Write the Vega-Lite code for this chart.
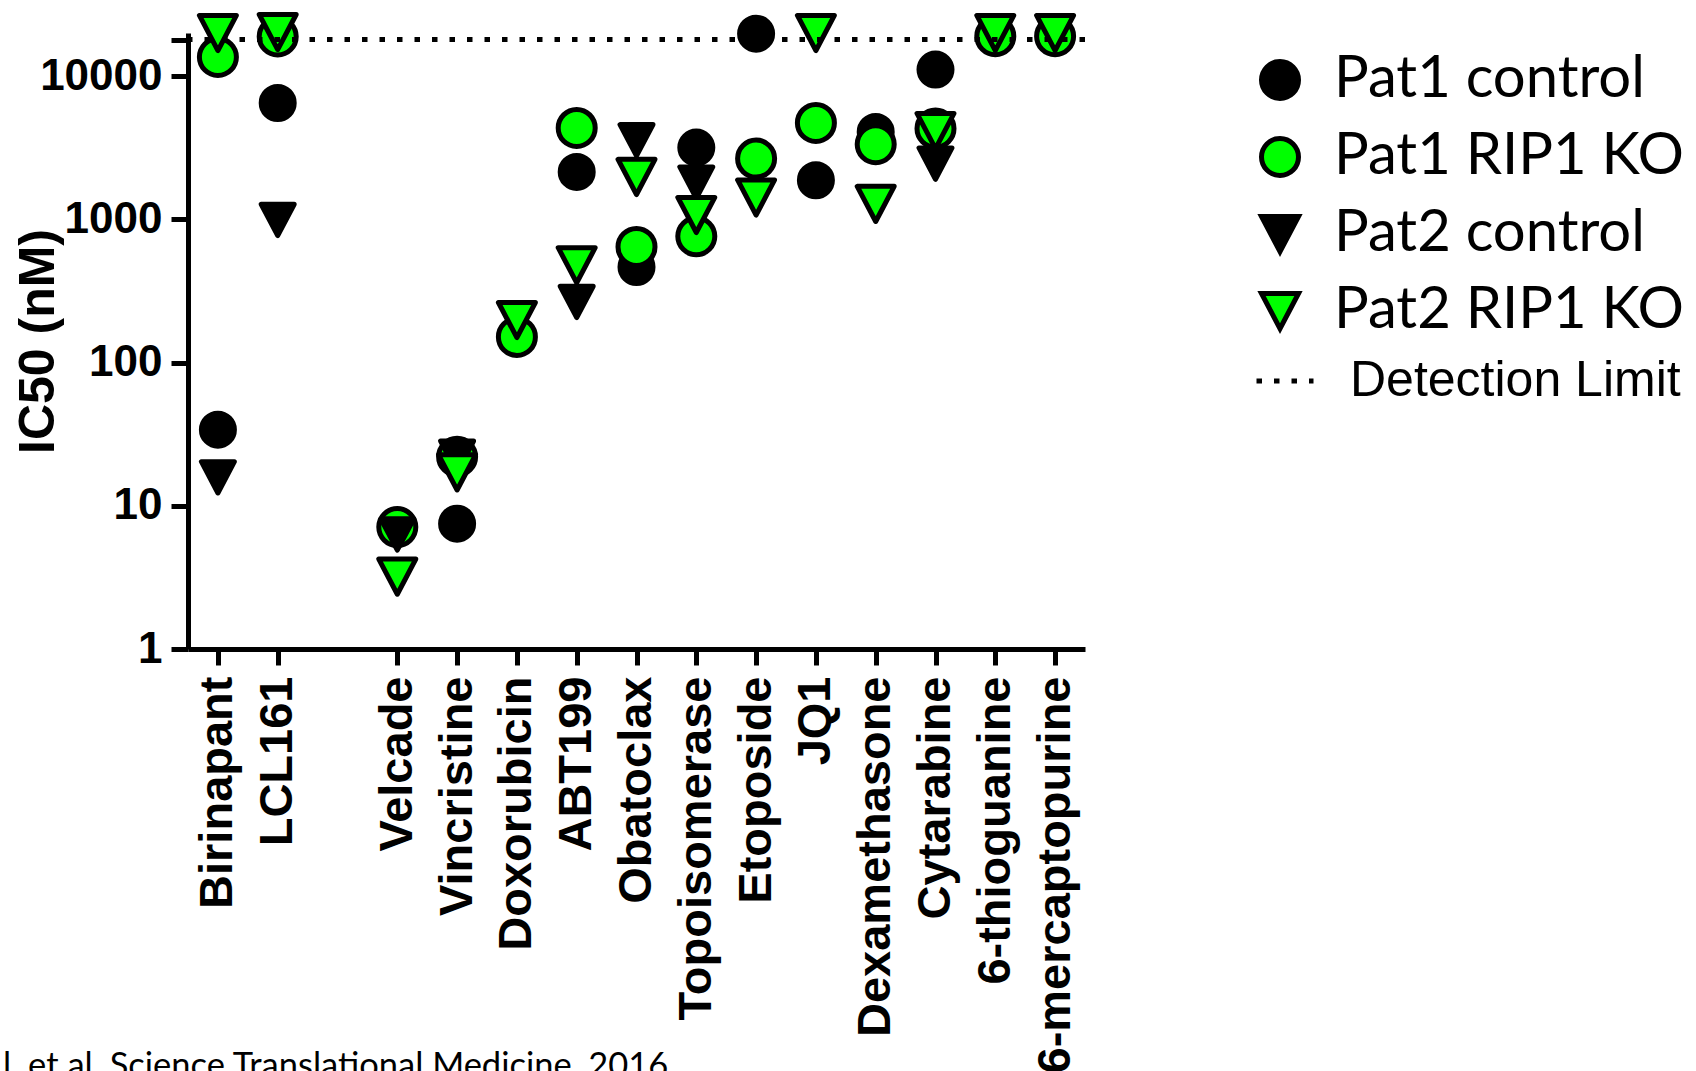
{
  "$schema": "https://vega.github.io/schema/vega-lite/v6.json",
  "width": 897,
  "height": 616,
  "autosize": {"type": "none"},
  "padding": {"left": 188, "top": 33, "right": 611, "bottom": 422},
  "background": "white",
  "title": {
    "text": "l. et al. Science Translational Medicine, 2016",
    "orient": "bottom",
    "anchor": "start",
    "frame": "group",
    "font": "Lato",
    "fontSize": 34.5,
    "fontWeight": "normal",
    "color": "black",
    "offset": -23,
    "dx": -185
  },
  "config": {
    "view": {"stroke": null},
    "font": "Liberation Sans",
    "legend": {
      "padding": 0,
      "labelColor": "black",
      "symbolStrokeColor": "black",
      "symbolStrokeWidth": 5,
      "labelLimit": 600
    }
  },
  "layer": [
    {
      "data": {
        "values": [
          {"drug": "Birinapant", "series": "Pat1 control", "ic50": 34},
          {"drug": "LCL161", "series": "Pat1 control", "ic50": 6490},
          {"drug": "Velcade", "series": "Pat1 control", "ic50": 7.0},
          {"drug": "Vincristine", "series": "Pat1 control", "ic50": 7.5},
          {"drug": "Doxorubicin", "series": "Pat1 control", "ic50": 150},
          {"drug": "ABT199", "series": "Pat1 control", "ic50": 2143},
          {"drug": "Obatoclax", "series": "Pat1 control", "ic50": 465},
          {"drug": "Topoisomerase", "series": "Pat1 control", "ic50": 3170},
          {"drug": "Etoposide", "series": "Pat1 control", "ic50": 19800},
          {"drug": "JQ1", "series": "Pat1 control", "ic50": 1875},
          {"drug": "Dexamethasone", "series": "Pat1 control", "ic50": 4075},
          {"drug": "Cytarabine", "series": "Pat1 control", "ic50": 11100},
          {"drug": "6-thioguanine", "series": "Pat1 control", "ic50": 19000},
          {"drug": "6-mercaptopurine", "series": "Pat1 control", "ic50": 19000},

          {"drug": "Birinapant", "series": "Pat1 RIP1 KO", "ic50": 13600},
          {"drug": "LCL161", "series": "Pat1 RIP1 KO", "ic50": 18900},
          {"drug": "Velcade", "series": "Pat1 RIP1 KO", "ic50": 7.1},
          {"drug": "Vincristine", "series": "Pat1 RIP1 KO", "ic50": 22},
          {"drug": "Doxorubicin", "series": "Pat1 RIP1 KO", "ic50": 151},
          {"drug": "ABT199", "series": "Pat1 RIP1 KO", "ic50": 4345},
          {"drug": "Obatoclax", "series": "Pat1 RIP1 KO", "ic50": 642},
          {"drug": "Topoisomerase", "series": "Pat1 RIP1 KO", "ic50": 762},
          {"drug": "Etoposide", "series": "Pat1 RIP1 KO", "ic50": 2656},
          {"drug": "JQ1", "series": "Pat1 RIP1 KO", "ic50": 4710},
          {"drug": "Dexamethasone", "series": "Pat1 RIP1 KO", "ic50": 3343},
          {"drug": "Cytarabine", "series": "Pat1 RIP1 KO", "ic50": 4300},
          {"drug": "6-thioguanine", "series": "Pat1 RIP1 KO", "ic50": 19000},
          {"drug": "6-mercaptopurine", "series": "Pat1 RIP1 KO", "ic50": 19000},

          {"drug": "Birinapant", "series": "Pat2 control", "ic50": 15.8},
          {"drug": "LCL161", "series": "Pat2 control", "ic50": 990},
          {"drug": "Velcade", "series": "Pat2 control", "ic50": 6.3},
          {"drug": "Vincristine", "series": "Pat2 control", "ic50": 22},
          {"drug": "Doxorubicin", "series": "Pat2 control", "ic50": 198},
          {"drug": "ABT199", "series": "Pat2 control", "ic50": 265},
          {"drug": "Obatoclax", "series": "Pat2 control", "ic50": 3565},
          {"drug": "Topoisomerase", "series": "Pat2 control", "ic50": 1806},
          {"drug": "Etoposide", "series": "Pat2 control", "ic50": 1420},
          {"drug": "JQ1", "series": "Pat2 control", "ic50": 20000},
          {"drug": "Dexamethasone", "series": "Pat2 control", "ic50": 1281},
          {"drug": "Cytarabine", "series": "Pat2 control", "ic50": 2450},
          {"drug": "6-thioguanine", "series": "Pat2 control", "ic50": 20000},
          {"drug": "6-mercaptopurine", "series": "Pat2 control", "ic50": 20000},

          {"drug": "Birinapant", "series": "Pat2 RIP1 KO", "ic50": 20000},
          {"drug": "LCL161", "series": "Pat2 RIP1 KO", "ic50": 20300},
          {"drug": "Velcade", "series": "Pat2 RIP1 KO", "ic50": 3.2},
          {"drug": "Vincristine", "series": "Pat2 RIP1 KO", "ic50": 17.1},
          {"drug": "Doxorubicin", "series": "Pat2 RIP1 KO", "ic50": 198},
          {"drug": "ABT199", "series": "Pat2 RIP1 KO", "ic50": 478},
          {"drug": "Obatoclax", "series": "Pat2 RIP1 KO", "ic50": 1977},
          {"drug": "Topoisomerase", "series": "Pat2 RIP1 KO", "ic50": 1073},
          {"drug": "Etoposide", "series": "Pat2 RIP1 KO", "ic50": 1420},
          {"drug": "JQ1", "series": "Pat2 RIP1 KO", "ic50": 20000},
          {"drug": "Dexamethasone", "series": "Pat2 RIP1 KO", "ic50": 1281},
          {"drug": "Cytarabine", "series": "Pat2 RIP1 KO", "ic50": 4140},
          {"drug": "6-thioguanine", "series": "Pat2 RIP1 KO", "ic50": 20000},
          {"drug": "6-mercaptopurine", "series": "Pat2 RIP1 KO", "ic50": 20000}
        ]
      },
      "mark": {"type": "point", "filled": true, "strokeWidth": 5, "strokeJoin": "round", "opacity": 1},
      "encoding": {
        "x": {
          "field": "drug",
          "type": "nominal",
          "sort": null,
          "scale": {
            "type": "point",
            "padding": 0.5,
            "domain": ["Birinapant", "LCL161", " ", "Velcade", "Vincristine", "Doxorubicin", "ABT199", "Obatoclax", "Topoisomerase", "Etoposide", "JQ1", "Dexamethasone", "Cytarabine", "6-thioguanine", "6-mercaptopurine"]
          },
          "axis": {
            "title": null,
            "values": ["Birinapant", "LCL161", "Velcade", "Vincristine", "Doxorubicin", "ABT199", "Obatoclax", "Topoisomerase", "Etoposide", "JQ1", "Dexamethasone", "Cytarabine", "6-thioguanine", "6-mercaptopurine"],
            "labelAngle": -90,
            "labelFont": "Liberation Sans",
            "labelFontWeight": "bold",
            "labelFontSize": 47,
            "labelColor": "black",
            "labelPadding": 11,
            "labelOverlap": false,
            "labelLimit": 1000,
            "tickSize": 16,
            "tickWidth": 5,
            "tickColor": "black",
            "domainWidth": 5,
            "domainColor": "black",
            "grid": false
          }
        },
        "y": {
          "field": "ic50",
          "type": "quantitative",
          "scale": {"type": "log", "domain": [1, 20000], "nice": false},
          "axis": {
            "title": "IC50 (nM)",
            "values": [1, 10, 100, 1000, 10000, 18000],
            "format": "d",
            "labelExpr": "datum.value == 18000 ? '' : format(datum.value, 'd')",
            "labelFont": "Liberation Sans",
            "labelFontWeight": "bold",
            "labelFontSize": 44,
            "labelColor": "black",
            "labelPadding": 9,
            "labelOverlap": false,
            "tickSize": 17,
            "tickWidth": 5,
            "tickColor": "black",
            "domainWidth": 5,
            "domainColor": "black",
            "grid": false,
            "titleFont": "Liberation Sans",
            "titleFontWeight": "bold",
            "titleFontSize": 50,
            "titleColor": "black",
            "titleX": -150,
            "titleY": 308,
            "titleAngle": -90,
            "titleAlign": "center",
            "titleBaseline": "middle"
          }
        },
        "shape": {
          "field": "series",
          "type": "nominal",
          "scale": {
            "domain": ["Pat1 control", "Pat1 RIP1 KO", "Pat2 control", "Pat2 RIP1 KO"],
            "range": ["circle", "circle", "M-1,-0.95L1,-0.95L0,0.95Z", "M-1,-0.95L1,-0.95L0,0.95Z"]
          },
          "legend": {
            "title": null, "orient": "none", "legendX": 1063, "legendY": 18,
            "labelFont": "Lato", "labelFontSize": 58, "labelOffset": 25, "rowPadding": 19, "symbolSize": 1369
          }
        },
        "fill": {
          "field": "series",
          "type": "nominal",
          "scale": {
            "domain": ["Pat1 control", "Pat1 RIP1 KO", "Pat2 control", "Pat2 RIP1 KO"],
            "range": ["black", "#00ff00", "black", "#00ff00"]
          },
          "legend": {
            "title": null, "orient": "none", "legendX": 1063, "legendY": 18,
            "labelFont": "Lato", "labelFontSize": 58, "labelOffset": 25, "rowPadding": 19, "symbolSize": 1369
          }
        },
        "stroke": {
          "field": "series",
          "type": "nominal",
          "scale": {
            "domain": ["Pat1 control", "Pat1 RIP1 KO", "Pat2 control", "Pat2 RIP1 KO"],
            "range": ["black", "black", "black", "black"]
          },
          "legend": {
            "title": null, "orient": "none", "legendX": 1063, "legendY": 18,
            "labelFont": "Lato", "labelFontSize": 58, "labelOffset": 25, "rowPadding": 19, "symbolSize": 1369
          }
        },
        "size": {
          "condition": {"test": "datum.series == 'Pat1 control' || datum.series == 'Pat2 control'", "value": 1089},
          "value": 1369
        }
      }
    },
    {
      "data": {"values": [{"limit": "Detection Limit"}]},
      "mark": {"type": "rule", "strokeWidth": 5, "color": "black"},
      "encoding": {
        "y": {"datum": 18000},
        "strokeDash": {
          "field": "limit",
          "type": "nominal",
          "scale": {"domain": ["Detection Limit"], "range": [[5.5, 12]]},
          "legend": {
            "title": null, "orient": "none", "legendX": 1066, "legendY": 317,
            "labelFont": "Liberation Sans", "labelFontSize": 50, "labelOffset": 34,
            "symbolType": "stroke", "symbolSize": 3249, "symbolStrokeColor": "black", "symbolStrokeWidth": 5
          }
        }
      }
    }
  ]
}
